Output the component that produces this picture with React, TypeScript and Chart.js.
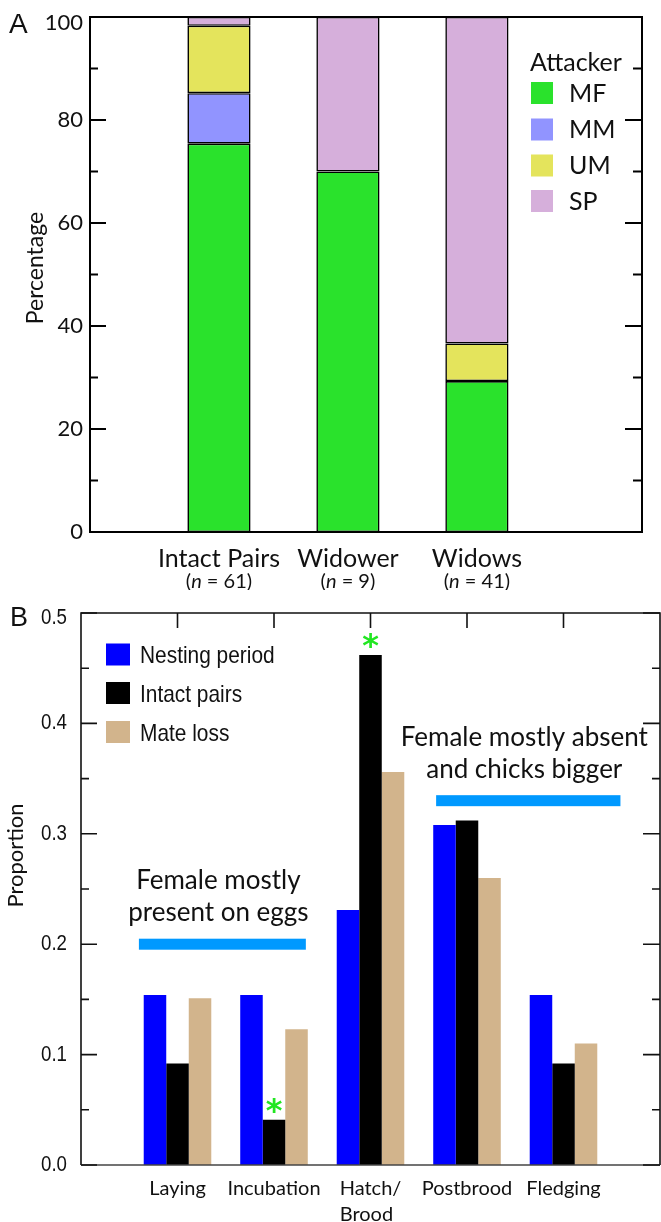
import React, { useEffect, useRef } from 'react';
import { Chart, registerables } from 'chart.js';

Chart.register(...registerables);

// ---------- Panel A data ----------
const groupsA = ['Intact Pairs', 'Widower', 'Widows'];
const groupNA = ['61', '9', '41'];
const attackers = ['MF', 'MM', 'UM', 'SP'];
const attackerColors = ['#2AE22C', '#9194FF', '#E4E45C', '#D6AFDB'];
const mfPct = [75.4, 70, 29.3];
const mmPct = [9.8, 0, 0];
const umPct = [13.1, 0, 7.3];
const spPct = [1.7, 30, 63.4];
const yMajorA = [0, 20, 40, 60, 80, 100];
const yMinorA = [10, 30, 50, 70, 90];

// ---------- Panel B data ----------
const periods = [['Laying'], ['Incubation'], ['Hatch/', 'Brood'], ['Postbrood'], ['Fledging']];
const seriesB = ['Nesting period', 'Intact pairs', 'Mate loss'];
const colorsB = ['#0000FF', '#000000', '#D2B48C'];
const nestingProp = [0.154, 0.154, 0.231, 0.308, 0.154];
const intactProp = [0.092, 0.041, 0.462, 0.312, 0.092];
const mateLossProp = [0.151, 0.123, 0.356, 0.26, 0.11];
const intactSignificant = [false, true, true, false, false];
const yMajorB = [0, 0.1, 0.2, 0.3, 0.4, 0.5];
const yMinorB = [0.05, 0.15, 0.25, 0.35, 0.45];
const bandFrom = [0.6, 3.68];
const bandTo = [2.33, 5.59];
const bandLevel = [0.2, 0.33];
const bandText = [
  ['Female mostly', 'present on eggs'],
  ['Female mostly absent', 'and chicks bigger'],
];

const TXT = '#111';

function fillCondensed(ctx: CanvasRenderingContext2D, text: string, x: number, y: number, sx: number) {
  ctx.save();
  ctx.translate(x, y);
  ctx.scale(sx, 1);
  ctx.fillText(text, 0, 0);
  ctx.restore();
}

function drawNLabel(ctx: CanvasRenderingContext2D, n: string, cx: number, baseline: number) {
  const parts: [string, string][] = [
    ['(', '20px Lato'],
    ['n', 'italic 20px Lato'],
    [' = ' + n + ')', '20px Lato'],
  ];
  let w = 0;
  parts.forEach(([t, f]) => {
    ctx.font = f;
    w += ctx.measureText(t).width;
  });
  let x = cx - w / 2;
  ctx.textAlign = 'left';
  ctx.textBaseline = 'alphabetic';
  parts.forEach(([t, f]) => {
    ctx.font = f;
    ctx.fillText(t, x, baseline);
    x += ctx.measureText(t).width;
  });
}

const panelAPlugin = {
  id: 'panelA',
  afterDraw(chart: any) {
    const ctx: CanvasRenderingContext2D = chart.ctx;
    const ca = chart.chartArea;
    const xs = chart.scales.x;
    const ys = chart.scales.y;
    ctx.save();
    ctx.strokeStyle = '#000';
    ctx.lineWidth = 2;
    ctx.strokeRect(ca.left, ca.top, ca.right - ca.left, ca.bottom - ca.top);
    ctx.beginPath();
    yMajorA.forEach((v) => {
      const py = ys.getPixelForValue(v);
      ctx.moveTo(ca.left, py);
      ctx.lineTo(ca.left + 16, py);
      ctx.moveTo(ca.right, py);
      ctx.lineTo(ca.right - 17, py);
    });
    yMinorA.forEach((v) => {
      const py = ys.getPixelForValue(v);
      ctx.moveTo(ca.left, py);
      ctx.lineTo(ca.left + 8, py);
      ctx.moveTo(ca.right, py);
      ctx.lineTo(ca.right - 9, py);
    });
    ctx.stroke();

    ctx.fillStyle = TXT;
    ctx.font = '22px Lato';
    ctx.textAlign = 'right';
    ctx.textBaseline = 'middle';
    yMajorA.forEach((v) => {
      const py = ys.getPixelForValue(v);
      ctx.fillText(String(v), ca.left - 7, Math.max(py, ca.top + 6));
    });

    // y title
    ctx.save();
    ctx.translate(36, 268);
    ctx.rotate(-Math.PI / 2);
    ctx.font = '23px Lato';
    ctx.textAlign = 'center';
    ctx.textBaseline = 'middle';
    ctx.fillText('Percentage', 0, 0);
    ctx.restore();

    // x labels
    groupsA.forEach((g, i) => {
      const px = xs.getPixelForValue(i + 1);
      ctx.font = '25px Lato';
      ctx.textAlign = 'center';
      ctx.textBaseline = 'alphabetic';
      ctx.fillText(g, px, ca.bottom + 34.5);
      drawNLabel(ctx, groupNA[i], px, ca.bottom + 55.5);
    });

    // legend
    ctx.textAlign = 'left';
    ctx.textBaseline = 'alphabetic';
    ctx.font = '25px Lato';
    ctx.fillText('Attacker', 530, 71);
    const centers = [93, 129.5, 165.5, 201];
    attackers.forEach((a, k) => {
      ctx.fillStyle = attackerColors[k];
      ctx.fillRect(531, centers[k] - 11, 22, 22);
      ctx.fillStyle = TXT;
      ctx.fillText(a, 569, centers[k] + 8.5);
    });

    // panel letter
    ctx.font = '28px "Liberation Sans"';
    ctx.fillText('A', 9, 33);
    ctx.restore();
  },
};

const panelBPlugin = {
  id: 'panelB',
  afterDraw(chart: any) {
    const ctx: CanvasRenderingContext2D = chart.ctx;
    const ca = chart.chartArea;
    const xs = chart.scales.x;
    const ys = chart.scales.y;
    ctx.save();

    // annotation bands
    bandFrom.forEach((f, i) => {
      const x0 = xs.getPixelForValue(f);
      const x1 = xs.getPixelForValue(bandTo[i]);
      const py = ys.getPixelForValue(bandLevel[i]);
      ctx.fillStyle = '#0099FF';
      ctx.fillRect(x0, py - 5.5, x1 - x0, 11);
      ctx.fillStyle = TXT;
      ctx.font = '26px Lato';
      ctx.textAlign = 'center';
      ctx.textBaseline = 'alphabetic';
      const cx = (x0 + x1) / 2 - 4;
      ctx.fillText(bandText[i][1], cx, py - 23);
      ctx.fillText(bandText[i][0], cx, py - 55);
    });

    // frame
    ctx.lineWidth = 1.6;
    ctx.strokeStyle = '#111';
    ctx.beginPath();
    ctx.moveTo(ca.left, ca.bottom);
    ctx.lineTo(ca.left, ca.top);
    ctx.lineTo(ca.right, ca.top);
    ctx.lineTo(ca.right, ca.bottom);
    ctx.stroke();
    ctx.strokeStyle = '#444';
    ctx.lineWidth = 1.3;
    ctx.beginPath();
    ctx.moveTo(ca.left, ca.bottom);
    ctx.lineTo(ca.right, ca.bottom);
    ctx.stroke();

    // ticks
    ctx.strokeStyle = '#111';
    ctx.lineWidth = 1.6;
    ctx.beginPath();
    yMajorB.forEach((v) => {
      const py = ys.getPixelForValue(v);
      ctx.moveTo(ca.left, py);
      ctx.lineTo(ca.left + 16, py);
      ctx.moveTo(ca.right, py);
      ctx.lineTo(ca.right - 17, py);
    });
    yMinorB.forEach((v) => {
      const py = ys.getPixelForValue(v);
      ctx.moveTo(ca.left, py);
      ctx.lineTo(ca.left + 8, py);
      ctx.moveTo(ca.right, py);
      ctx.lineTo(ca.right - 8, py);
    });
    periods.forEach((_, i) => {
      const px = xs.getPixelForValue(i + 1);
      ctx.moveTo(px, ca.top);
      ctx.lineTo(px, ca.top + 15);
    });
    ctx.stroke();

    // y tick labels
    ctx.fillStyle = TXT;
    ctx.font = '22px "Liberation Sans"';
    ctx.textAlign = 'right';
    ctx.textBaseline = 'middle';
    yMajorB.forEach((v) => {
      const py = ys.getPixelForValue(v);
      fillCondensed(ctx, v.toFixed(1), ca.left - 14, Math.max(py, ca.top + 5), 0.85);
    });

    // y title
    ctx.save();
    ctx.translate(16, 265.5);
    ctx.rotate(-Math.PI / 2);
    ctx.font = '22px Lato';
    ctx.textAlign = 'center';
    ctx.textBaseline = 'middle';
    ctx.fillText('Proportion', 0, 0);
    ctx.restore();

    // x labels
    ctx.font = '20px Lato';
    ctx.textBaseline = 'alphabetic';
    periods.forEach((lines, i) => {
      const px = xs.getPixelForValue(i + 1);
      if (lines.length === 1) {
        ctx.textAlign = 'center';
        ctx.fillText(lines[0], px, ca.bottom + 30);
      } else {
        const w0 = ctx.measureText(lines[0]).width;
        ctx.textAlign = 'left';
        ctx.fillText(lines[0], px - w0 / 2, ca.bottom + 30);
        ctx.fillText(lines[1], px - w0 / 2, ca.bottom + 56);
      }
    });

    // significance asterisks
    const meta = chart.getDatasetMeta(1);
    ctx.font = 'bold 100px "DejaVu Sans"';
    const m = ctx.measureText('*');
    const gh = m.actualBoundingBoxAscent + m.actualBoundingBoxDescent;
    const size = (100 * 15) / gh;
    ctx.font = `bold ${size}px "DejaVu Sans"`;
    const m2 = ctx.measureText('*');
    ctx.fillStyle = '#22E622';
    ctx.textAlign = 'center';
    ctx.textBaseline = 'alphabetic';
    intactSignificant.forEach((s, i) => {
      if (!s) return;
      const el = meta.data[i];
      const bottom = el.y - 7;
      ctx.fillText('*', el.x, bottom - m2.actualBoundingBoxDescent);
    });

    // legend
    const centers = [64.5, 103, 142];
    ctx.font = '24px "Liberation Sans"';
    ctx.textAlign = 'left';
    seriesB.forEach((s, k) => {
      ctx.fillStyle = colorsB[k];
      ctx.fillRect(106, centers[k] - 11, 24, 22);
      ctx.fillStyle = TXT;
      fillCondensed(ctx, s, 140, centers[k] + 8.5, 0.87);
    });

    // panel letter
    ctx.font = '27px "Liberation Sans"';
    ctx.fillText('B', 10, 36);
    ctx.restore();
  },
};

export default function App() {
  const refA = useRef<HTMLCanvasElement>(null);
  const refB = useRef<HTMLCanvasElement>(null);

  useEffect(() => {
    const seriesA = [mfPct, mmPct, umPct, spPct];
    const chartA = new Chart(refA.current as HTMLCanvasElement, {
      type: 'bar',
      data: {
        datasets: attackers.map((name, k) => ({
          label: name,
          data: seriesA[k].map((v, i) => ({ x: i + 1, y: v })),
          backgroundColor: attackerColors[k],
          borderColor: '#000',
          borderWidth: 1.6,
          borderSkipped: false,
          barPercentage: 1,
          categoryPercentage: 0.49,
        })),
      } as any,
      options: {
        responsive: false,
        animation: false,
        events: [],
        layout: { padding: { top: 17, right: 19, left: 0, bottom: 0 } },
        plugins: { legend: { display: false }, tooltip: { enabled: false } },
        scales: {
          x: {
            type: 'linear',
            min: 0,
            max: 4.28,
            offset: false,
            stacked: true,
            ticks: { display: false },
            grid: { display: false },
            border: { display: false },
            afterBuildTicks: (s: any) => {
              s.ticks = groupsA.map((_, i) => ({ value: i + 1 }));
            },
            afterFit: (s: any) => {
              s.height = 58;
            },
          },
          y: {
            type: 'linear',
            min: 0,
            max: 100,
            stacked: true,
            ticks: { display: false },
            grid: { display: false },
            border: { display: false },
            afterFit: (s: any) => {
              s.width = 90;
            },
          },
        },
      } as any,
      plugins: [panelAPlugin],
    });

    const seriesBVals = [nestingProp, intactProp, mateLossProp];
    const chartB = new Chart(refB.current as HTMLCanvasElement, {
      type: 'bar',
      data: {
        datasets: seriesB.map((name, k) => ({
          label: name,
          data: seriesBVals[k].map((v, i) => ({ x: i + 1, y: v })),
          backgroundColor: colorsB[k],
          borderWidth: 0,
          barPercentage: 1,
          categoryPercentage: 0.7,
        })),
      } as any,
      options: {
        responsive: false,
        animation: false,
        events: [],
        layout: { padding: { top: 23, right: 1, left: 0, bottom: 0 } },
        plugins: { legend: { display: false }, tooltip: { enabled: false } },
        scales: {
          x: {
            type: 'linear',
            min: 0,
            max: 6,
            offset: false,
            ticks: { display: false },
            grid: { display: false },
            border: { display: false },
            afterBuildTicks: (s: any) => {
              s.ticks = periods.map((_, i) => ({ value: i + 1 }));
            },
            afterFit: (s: any) => {
              s.height = 57;
            },
          },
          y: {
            type: 'linear',
            min: 0,
            max: 0.5,
            ticks: { display: false },
            grid: { display: false },
            border: { display: false },
            afterFit: (s: any) => {
              s.width = 81;
            },
          },
        },
      } as any,
      plugins: [panelBPlugin],
    });

    return () => {
      chartA.destroy();
      chartB.destroy();
    };
  }, []);

  return (
    <div style={{ position: 'absolute', left: 0, top: 0, width: 661, height: 1222, background: '#fff' }}>
      <div style={{ position: 'absolute', left: 0, top: 0, width: 661, height: 590 }}>
        <canvas ref={refA} width={661} height={590} style={{ display: 'block' }} />
      </div>
      <div style={{ position: 'absolute', left: 0, top: 590, width: 661, height: 632 }}>
        <canvas ref={refB} width={661} height={632} style={{ display: 'block' }} />
      </div>
    </div>
  );
}
